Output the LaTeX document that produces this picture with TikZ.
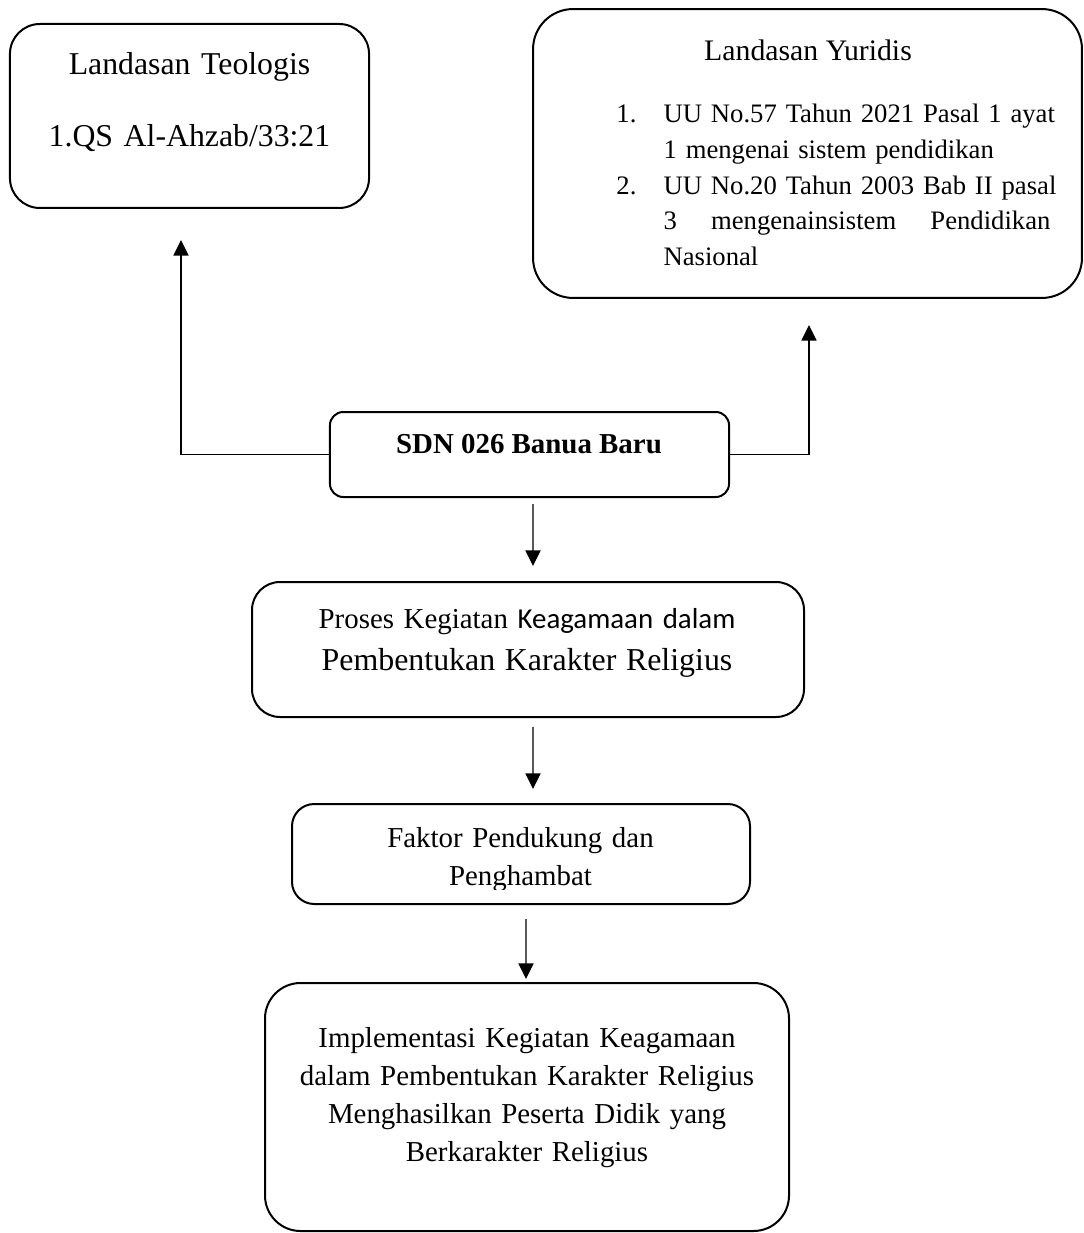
\documentclass[tikz,border=0pt]{standalone}
\usepackage{fontspec}
\setmainfont{Liberation Serif}
\newfontfamily\calibri{Carlito}
\usetikzlibrary{arrows.meta}

\tikzset{
  box/.style={draw, line width=0.9pt, inner sep=0pt},
  conn/.style={line width=0.6pt, -{Triangle[width=6.8pt,length=7pt]}},
  txt/.style={inner sep=0pt, anchor=base, align=center}
}

\begin{document}
\begin{tikzpicture}[x=0.45pt,y=-0.45pt]
\useasboundingbox (0,0) rectangle (1083,1233);
\clip (0,0) rectangle (1083,1233);

% boxes
\node[box, rounded corners=13.5pt, minimum width=161.6pt, minimum height=82.8pt] (teologis) at (189.5,116) {};
\node[box, rounded corners=18pt, minimum width=247pt, minimum height=130pt] (yuridis) at (807.5,153.5) {};
\node[box, rounded corners=6pt, minimum width=179.6pt, minimum height=38.25pt] (sdn) at (529.5,454.5) {};
\node[box, rounded corners=12.6pt, minimum width=248.4pt, minimum height=60.75pt] (proses) at (528,649.5) {};
\node[box, rounded corners=10pt, minimum width=206.1pt, minimum height=45pt] (faktor) at (521,854) {};
\node[box, rounded corners=16pt, minimum width=235.8pt, minimum height=111.6pt] (impl) at (527,1107) {};

% texts
\node[txt, text width=150pt, font=\fontsize{14.3}{32}\selectfont] (teologistext) at (189.5,75)
  {Landasan Teologis\\1.QS Al-Ahzab/33:21};
\node[txt, font=\fontsize{13.4}{16}\selectfont] (yuridistitle) at (808,61) {Landasan Yuridis};
\node[inner sep=0pt, anchor=base west, text width=195.3pt, font=\fontsize{12}{16}\selectfont] (uulist) at (616,123)
  {\makebox[21.2pt][l]{1.}\makebox[174.1pt][s]{UU No.57 Tahun 2021 Pasal 1 ayat}\\
   \hspace*{21.2pt}1 mengenai sistem pendidikan\\
   \makebox[21.2pt][l]{2.}\makebox[174.1pt][s]{UU No.20 Tahun 2003 Bab II pasal}\\
   \hspace*{21.2pt}\makebox[174.1pt][s]{3 \hfill mengenainsistem \hfill Pendidikan}\\
   \hspace*{21.2pt}Nasional};
\node[txt, font=\fontsize{13}{16}\selectfont\bfseries] (sdntext) at (529,453) {SDN 026 Banua Baru};
\node[txt, text width=240pt, font=\fontsize{13}{18.9}\selectfont] (prosestext) at (527,628)
  {Proses Kegiatan {\calibri Keagamaan dalam}\\
   {\fontsize{14.35}{18.9}\selectfont Pembentukan Karakter Religius}};
\begin{scope}
\clip ([yshift=7.2pt]faktor.south west) rectangle (faktor.north east);
\node[txt, text width=200pt, font=\fontsize{13}{17.1}\selectfont] (faktortext) at (520.5,847)
  {Faktor Pendukung dan\\Penghambat};
\end{scope}
\node[txt, text width=230pt, font=\fontsize{13}{17.2}\selectfont] (impltext) at (527,1047)
  {Implementasi Kegiatan Keagamaan\\dalam Pembentukan Karakter Religius\\Menghasilkan Peserta Didik yang\\Berkarakter Religius};

% connectors
\coordinate (teotip) at (181,240);
\coordinate (yurtip) at (809,325);
\draw[conn] (sdn.west) -| (teotip);
\draw[conn] (sdn.east) -| (yurtip);
\draw[conn] ([xshift=1.6pt,yshift=-2.7pt]sdn.south) -- ([xshift=2.25pt,yshift=6.75pt]proses.north);
\draw[conn] ([xshift=2.25pt,yshift=-4pt]proses.south) -- ([xshift=5.4pt,yshift=6.3pt]faktor.north);
\draw[conn] ([xshift=2.25pt,yshift=-6.3pt]faktor.south) -- ([xshift=-0.45pt,yshift=1.35pt]impl.north);
\end{tikzpicture}
\end{document}
